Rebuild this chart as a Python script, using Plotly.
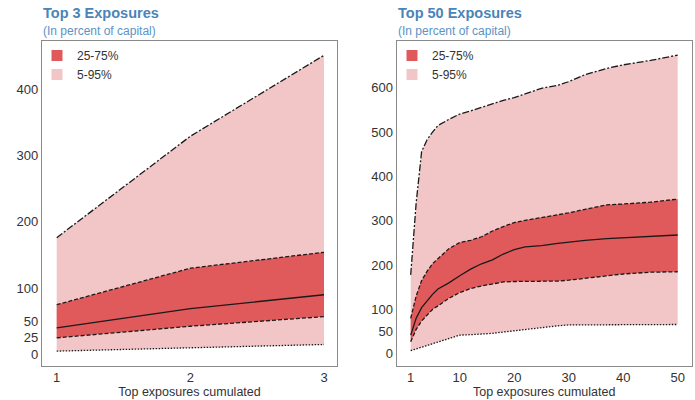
import plotly.graph_objects as go

# ---------------- data ----------------
# Left panel: Top 3 exposures
x3 = [1, 2, 3]
p5_3 = [5, 10.5, 15]
p25_3 = [25, 42.5, 57]
p50_3 = [40, 69, 90]
p75_3 = [75, 130, 154]
p95_3 = [176, 329, 451]

# Right panel: Top 50 exposures
x50 = [1, 2, 3, 4, 5, 6, 8, 10, 12, 14, 16, 18, 20, 22, 25, 28, 30, 33, 37, 40, 45, 50]
p5_50 = [7, 11, 15, 19, 23, 27, 35, 42, 43, 44, 46, 49, 52, 55, 60, 63, 65, 65, 65, 65, 66, 66]
p25_50 = [27, 55, 74, 88, 100, 108, 125, 138, 147, 153, 158, 162, 163, 163, 164, 164, 166, 170, 176, 180, 184, 185]
p50_50 = [42, 80, 104, 120, 134, 146, 160, 176, 191, 203, 212, 225, 235, 241, 244, 249, 252, 256, 260, 262, 265, 268]
p75_50 = [80, 130, 165, 186, 203, 215, 237, 251, 256, 264, 277, 287, 296, 301, 307, 314, 318, 326, 336, 338, 342, 349]
p95_50 = [178, 340, 456, 483, 500, 515, 529, 541, 548, 556, 564, 572, 578, 587, 599, 606, 614, 630, 644, 652, 662, 674]

yticks_3 = [0, 25, 50, 100, 200, 300, 400]
yticks_50 = [0, 50, 100, 200, 300, 400, 500, 600]
xticks_3 = [1, 2, 3]
xticks_50 = [1, 10, 20, 30, 40, 50]

titles = ["Top 3 Exposures", "Top 50 Exposures"]
subtitle = "(In percent of capital)"
xlabel = "Top exposures cumulated"
legend_names = ["25-75%", "5-95%"]

# ---------------- style ----------------
DARK = "#E05A5C"
LIGHT = "#F2C5C7"
LINE = "#1a1a1a"
FRAME = "#8a8a8a"
TITLE_C = "#4A84B8"
SUB_C = "#5B93C6"
FONT = "Liberation Sans, Arial, sans-serif"

W, H = 695, 400
def px_x(p):
    return p / W
def px_y(p):
    return 1 - p / H

fig = go.Figure()

panels = [
    dict(x=x3, p5=p5_3, p25=p25_3, p50=p50_3, p75=p75_3, p95=p95_3, xa="x", ya="y", leg="legend"),
    dict(x=x50, p5=p5_50, p25=p25_50, p50=p50_50, p75=p75_50, p95=p95_50, xa="x2", ya="y2", leg="legend2"),
]

for pnl in panels:
    xa, ya = pnl["xa"], pnl["ya"]
    # light band 5-95
    fig.add_trace(go.Scatter(x=pnl["x"], y=pnl["p5"], mode="lines", line=dict(width=0),
                             showlegend=False, hoverinfo="skip", xaxis=xa, yaxis=ya))
    fig.add_trace(go.Scatter(x=pnl["x"], y=pnl["p95"], mode="lines", line=dict(width=0),
                             fill="tonexty", fillcolor=LIGHT, showlegend=False,
                             hoverinfo="skip", xaxis=xa, yaxis=ya))
    # dark band 25-75
    fig.add_trace(go.Scatter(x=pnl["x"], y=pnl["p25"], mode="lines", line=dict(width=0),
                             showlegend=False, hoverinfo="skip", xaxis=xa, yaxis=ya))
    fig.add_trace(go.Scatter(x=pnl["x"], y=pnl["p75"], mode="lines", line=dict(width=0),
                             fill="tonexty", fillcolor=DARK, showlegend=False,
                             hoverinfo="skip", xaxis=xa, yaxis=ya))
    # lines
    for key, dash in [("p95", "7px,2px,2px,2px"), ("p75", "4px,2px"), ("p25", "4px,2px"),
                      ("p5", "1.5px,1.5px"), ("p50", "solid")]:
        fig.add_trace(go.Scatter(x=pnl["x"], y=pnl[key], mode="lines",
                                 line=dict(color=LINE, width=1.3, dash=dash),
                                 showlegend=False, xaxis=xa, yaxis=ya))
    # legend entries
    for name, col in zip(legend_names, [DARK, LIGHT]):
        fig.add_trace(go.Scatter(x=[None], y=[None], mode="markers", name=name,
                                 marker=dict(symbol="square", size=11, color=col),
                                 xaxis=xa, yaxis=ya, legend=pnl["leg"]))

dom_y = [px_y(365.7), px_y(40.7)]
axis_common = dict(showline=True, mirror=True, linecolor=FRAME, linewidth=1.3,
                   showgrid=False, zeroline=False, ticks="",
                   tickfont=dict(size=13, color="#333333", family=FONT))

legend_common = dict(xanchor="left", yanchor="top", bgcolor="rgba(0,0,0,0)",
                     font=dict(size=12, color="#333333", family=FONT),
                     itemwidth=30, tracegroupgap=0, traceorder="normal")

fig.update_layout(
    width=W, height=H,
    margin=dict(l=0, r=0, t=0, b=0),
    paper_bgcolor="white", plot_bgcolor="white",
    font=dict(family=FONT, color="#333333"),
    xaxis=dict(domain=[px_x(42), px_x(337)], range=[0.89, 3.097], tickvals=xticks_3,
               anchor="y", title=dict(text=xlabel, font=dict(size=12.5), standoff=2), **axis_common),
    yaxis=dict(domain=dom_y, range=[-17, 473], tickvals=yticks_3, anchor="x", **axis_common),
    xaxis2=dict(domain=[px_x(396.7), px_x(691.7)], range=[-1.57, 52.57], tickvals=xticks_50,
                anchor="y2", title=dict(text=xlabel, font=dict(size=12.5), standoff=2), **axis_common),
    yaxis2=dict(domain=dom_y, range=[-27, 706.5], tickvals=yticks_50, anchor="x2", **axis_common),
    legend=dict(x=px_x(37), y=px_y(41), **legend_common),
    legend2=dict(x=px_x(392), y=px_y(41), **legend_common),
)

annots = []
for t, x0 in zip(titles, [42, 397]):
    annots.append(dict(text="<b>%s</b>" % t, xref="paper", yref="paper", x=px_x(x0 - 1),
                       y=px_y(13), xanchor="left", yanchor="middle", showarrow=False,
                       font=dict(size=14.5, color=TITLE_C, family=FONT)))
    annots.append(dict(text=subtitle, xref="paper", yref="paper", x=px_x(x0 - 1),
                       y=px_y(31), xanchor="left", yanchor="middle", showarrow=False,
                       font=dict(size=12, color=SUB_C, family=FONT)))
fig.update_layout(annotations=annots)

fig.write_html("out.html", config={"displayModeBar": False},
               post_script="document.body.style.margin='0';")
